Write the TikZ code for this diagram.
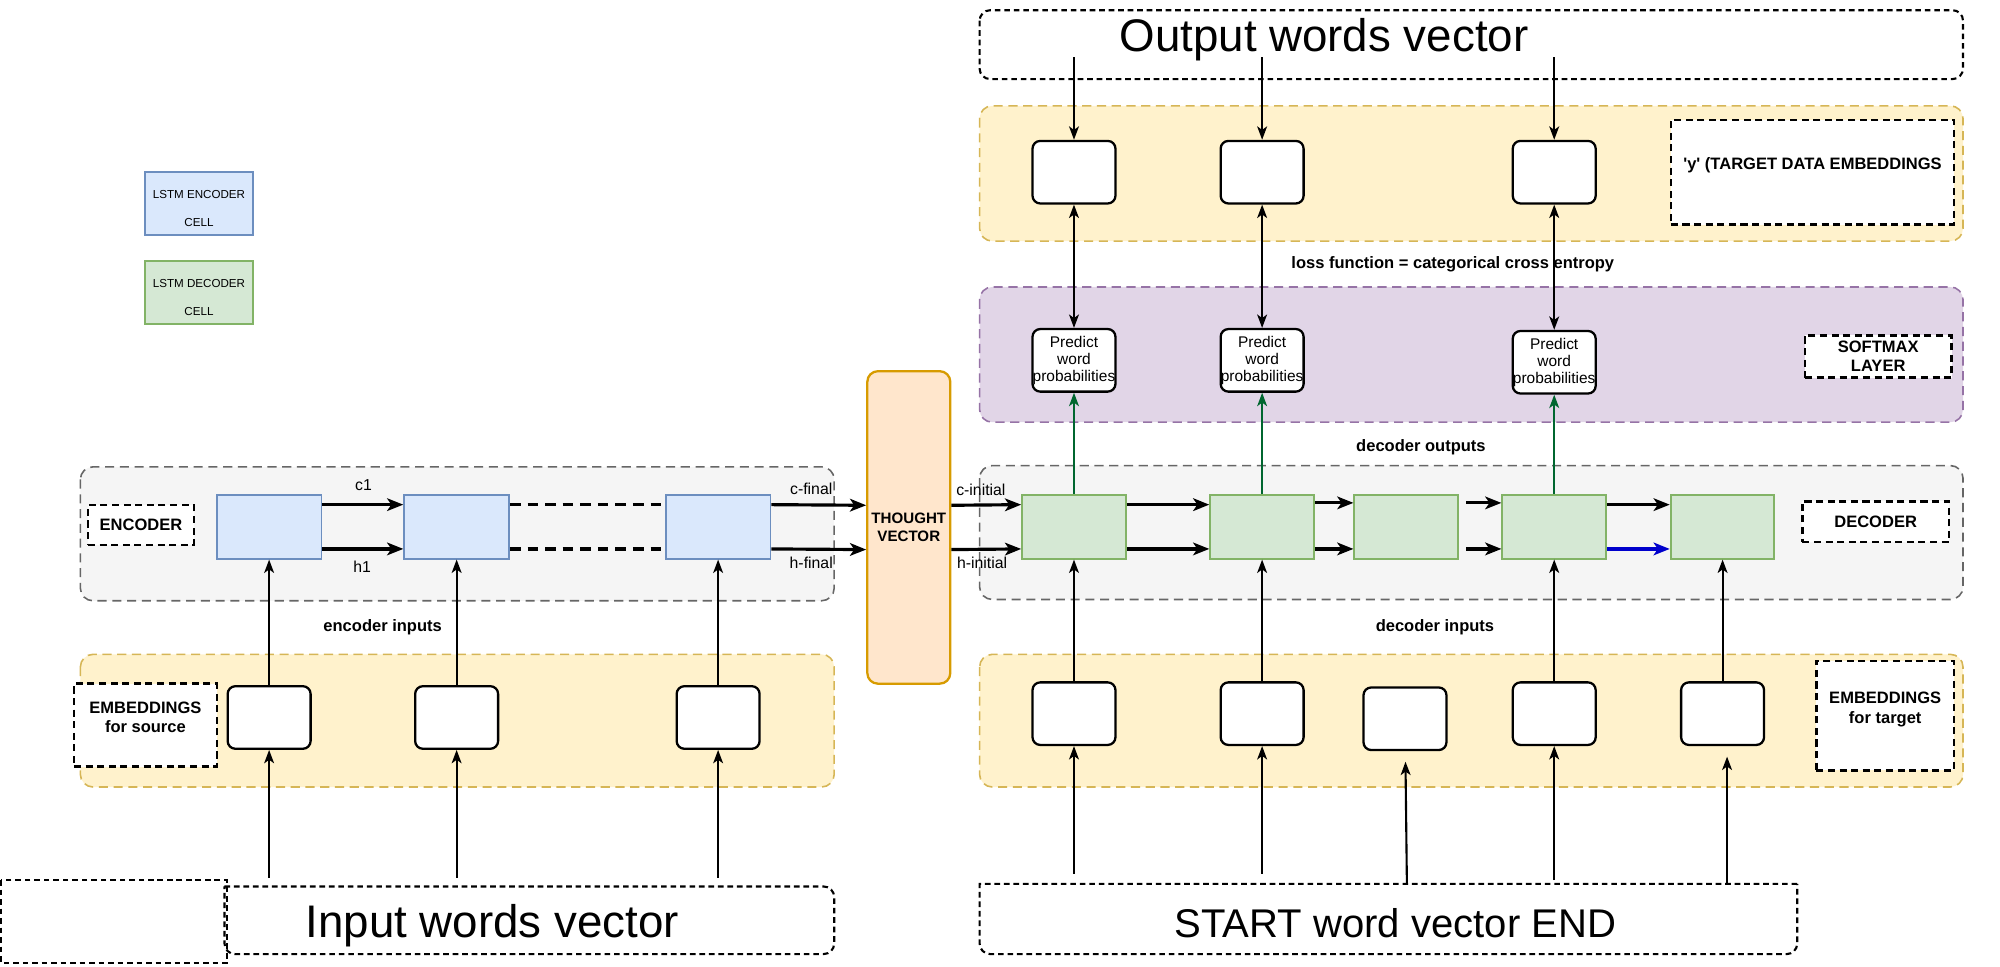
\documentclass[tikz,border=0pt]{standalone}
\usepackage{fontspec}
\setmainfont{Liberation Sans}
\usetikzlibrary{arrows.meta}
\definecolor{grpgraydraw}{HTML}{666666}
\definecolor{grpgrayfill}{HTML}{F5F5F5}
\definecolor{grpyellowdraw}{HTML}{D6B656}
\definecolor{grpyellowfill}{HTML}{FFF2CC}
\definecolor{grppurpledraw}{HTML}{9673A6}
\definecolor{grppurplefill}{HTML}{E1D5E7}
\definecolor{encdraw}{HTML}{6C8EBF}
\definecolor{encfill}{HTML}{DAE8FC}
\definecolor{decdraw}{HTML}{82B366}
\definecolor{decfill}{HTML}{D5E8D4}
\definecolor{tvdraw}{HTML}{D79B00}
\definecolor{tvfill}{HTML}{FFE6CC}
\definecolor{outgreen}{HTML}{00662F}
\definecolor{arrblue}{HTML}{0000CC}

\begin{document}
\begin{tikzpicture}[x=0.3629pt, y=-0.3629pt,
  grp/.style={dash pattern=on 2.6pt off 1.6pt, line width=0.45pt, rounded corners=3.6pt},
  grpgray/.style={grp, draw=grpgraydraw, fill=grpgrayfill},
  grpyellow/.style={grp, draw=grpyellowdraw, fill=grpyellowfill},
  grppurple/.style={grp, draw=grppurpledraw, fill=grppurplefill},
  bigbox/.style={draw=black, dash pattern=on 1.6pt off 1.1pt, line width=0.6pt},
  enccell/.style={draw=encdraw, fill=encfill, line width=0.55pt, minimum width=29.8pt, minimum height=18.1pt, inner sep=0pt},
  deccell/.style={draw=decdraw, fill=decfill, line width=0.55pt, minimum width=29.5pt, minimum height=18.1pt, inner sep=0pt},
  legendbox/.style={line width=0.55pt, minimum width=30.5pt, minimum height=17.8pt, inner sep=0pt, align=center, font=\fontsize{3.3}{8}\selectfont},
  embox/.style={draw=black, fill=white, line width=0.65pt, rounded corners=2.2pt, minimum width=23.6pt, minimum height=17.8pt, inner sep=0pt},
  predbox/.style={embox, align=center, font=\fontsize{4.4}{4.9}\selectfont},
  tagbox/.style={draw=black, fill=white, dash pattern=on 2pt off 1.3pt, line width=0.7pt, inner sep=0pt, align=center, font=\bfseries\fontsize{4.7}{5.5}\selectfont},
  lbl/.style={inner sep=0pt, font=\bfseries\fontsize{4.7}{5.5}\selectfont},
  smalllbl/.style={inner sep=0pt, font=\fontsize{4.5}{5}\selectfont},
  bigtxt/.style={inner sep=0pt, anchor=base, font=\fontsize{13}{15}\selectfont},
  arr/.style={-{Stealth[length=4.6pt, width=3.6pt, inset=1.2pt]}, line width=0.9pt},
  thinarr/.style={-{Stealth[length=3.8pt, width=2.8pt, inset=1pt]}, line width=0.6pt},
  dblarr/.style={{Stealth[length=3.8pt, width=2.8pt, inset=1pt]}-{Stealth[length=3.8pt, width=2.8pt, inset=1pt]}, line width=0.6pt},
  gapline/.style={dash pattern=on 3pt off 2pt, line width=0.9pt}
]
\useasboundingbox (0, 0) rectangle (1568, 758);

% groups
\draw [grpgray]   (63, 366) rectangle (654, 471);
\draw [grpyellow] (63, 513) rectangle (654, 617);
\draw [grpgray]   (768, 365) rectangle (1539, 470);
\draw [grpyellow] (768, 513) rectangle (1539, 617);
\draw [grppurple] (768, 225) rectangle (1539, 331);
\draw [grpyellow] (768, 83) rectangle (1539, 189);

% word vectors
\draw [bigbox, rounded corners=3pt] (768, 8) rectangle (1539, 62);
\draw [bigbox] (176, 695) [rounded corners=3pt] -- (654, 695) -- (654, 748) -- (176, 748) [sharp corners] -- cycle;
\draw [bigbox] (1409, 693) -- (768, 693) [rounded corners=3pt] -- (768, 748) -- (1409, 748) [sharp corners] -- cycle;
\draw [bigbox] (1, 690) rectangle (178, 755);
\node [bigtxt] (outtxt) at (1038, 40) {Output words vector};
\node [bigtxt] (intxt) at (386, 735) {Input words vector};
\node [bigtxt, font=\fontsize{11.4}{13}\selectfont] (starttxt) at (1094, 735) {START word vector END};

% legend
\node [legendbox, draw=encdraw, fill=encfill] (legenc) at (156, 159.5) {\rule{0pt}{5pt}LSTM ENCODER\\CELL};
\node [legendbox, draw=decdraw, fill=decfill] (legdec) at (156, 229.5) {\rule{0pt}{5pt}LSTM DECODER\\CELL};

% encoder
\node [tagbox, minimum width=30.1pt, minimum height=11.3pt] (enctag) at (110.5, 411.5) {ENCODER};
\node [tagbox, minimum width=40.6pt, minimum height=23.6pt] (srctag) at (114, 568.5) {EMBEDDINGS\\for source\\[-1pt]};
\node [enccell] (ec1) at (211, 413) {};
\node [enccell] (ec2) at (358, 413) {};
\node [enccell] (ec3) at (563, 413) {};
\node [embox] (em1) at (211, 562.5) {};
\node [embox] (em2) at (358, 562.5) {};
\node [embox] (em3) at (563, 562.5) {};
\coordinate (in1) at (211, 688);
\coordinate (in2) at (358, 688);
\coordinate (in3) at (563, 688);
\node [lbl] (encin) at (300, 492) {encoder inputs};
\node [smalllbl] (c1lbl) at (285, 380) {c1};
\node [smalllbl] (h1lbl) at (284, 444) {h1};
\node [smalllbl] (cfinal) at (636, 383) {c-final};
\node [smalllbl] (hfinal) at (636, 441) {h-final};

\node [draw=tvdraw, fill=tvfill, line width=0.65pt, rounded corners=3pt, minimum width=23.6pt, minimum height=88.9pt, inner sep=0pt, align=center, font=\bfseries\fontsize{4.3}{5.1}\selectfont] (tv) at (712.5, 413.5) {THOUGHT\\VECTOR};

\draw [thinarr] (in1) -- (em1);
\draw [thinarr] (in2) -- (em2);
\draw [thinarr] (in3) -- (em3);
\draw [thinarr] (em1) -- (ec1);
\draw [thinarr] (em2) -- (ec2);
\draw [thinarr] (em3) -- (ec3);
\draw [arr] ([yshift=6.3pt]ec1.east) -- ([yshift=6.3pt]ec2.west);
\draw [arr] ([yshift=-6.3pt]ec1.east) -- ([yshift=-6.3pt]ec2.west);
\draw [gapline] ([yshift=6.3pt]ec2.east) -- ([yshift=6.3pt]ec3.west);
\draw [gapline] ([yshift=-6.3pt]ec2.east) -- ([yshift=-6.3pt]ec3.west);
\draw [arr] ([yshift=6.3pt]ec3.east) -- ([yshift=6.3pt]tv.west);
\draw [arr] ([yshift=-6.3pt]ec3.east) -- ([yshift=-6.3pt]tv.west);

% decoder
\node [tagbox, minimum width=41.7pt, minimum height=11.6pt] (dectag) at (1470.5, 409) {DECODER};
\node [tagbox, minimum width=39.2pt, minimum height=31.2pt] (tgttag) at (1478, 561) {EMBEDDINGS\\for target\\[-1pt]};
\node [tagbox, minimum width=41.7pt, minimum height=12pt] (smtag) at (1472.5, 279.5) {SOFTMAX\\LAYER};
\node [tagbox, minimum width=80.6pt, minimum height=29.8pt] (ytag) at (1421, 135) {\textquotesingle y\textquotesingle\ (TARGET DATA EMBEDDINGS\\[-0.5pt]};
\node [deccell] (dc1) at (842, 413) {};
\node [deccell] (dc2) at (989.5, 413) {};
\node [deccell] (dc3) at (1102.5, 413) {};
\node [deccell] (dc4) at (1218.5, 413) {};
\node [deccell] (dc5) at (1350.5, 413) {};
\node [embox] (te1) at (842, 559.5) {};
\node [embox] (te2) at (989.5, 559.5) {};
\node [embox] (te3) at (1101.5, 563.5) {};
\node [embox] (te4) at (1218.5, 559.5) {};
\node [embox] (te5) at (1350.5, 559.5) {};
\node [predbox] (pw1) at (842, 282.5) {Predict\\word\\probabilities};
\node [predbox] (pw2) at (989.5, 282.5) {Predict\\word\\probabilities};
\node [predbox] (pw3) at (1218.5, 284) {Predict\\word\\probabilities};
\node [embox] (yb1) at (842, 135) {};
\node [embox] (yb2) at (989.5, 135) {};
\node [embox] (yb3) at (1218.5, 135) {};
\coordinate (st1) at (842, 685);
\coordinate (st2) at (989.5, 685);
\coordinate (st3) at (1103, 693);
\coordinate (st4) at (1218.5, 690);
\coordinate (st5) at (1354, 692);
\coordinate (ow1) at (842, 45);
\coordinate (ow2) at (989.5, 45);
\coordinate (ow3) at (1218.5, 45);
\node [lbl] (decin) at (1125, 492) {decoder inputs};
\node [lbl] (decout) at (1114, 351) {decoder outputs};
\node [lbl] (loss) at (1139, 207) {loss function = categorical cross entropy};
\node [smalllbl] (cinit) at (769, 384) {c-initial};
\node [smalllbl] (hinit) at (770, 441) {h-initial};

\draw [arr] ([yshift=6.3pt]tv.east) -- ([yshift=6.3pt]dc1.west);
\draw [arr] ([yshift=-6.3pt]tv.east) -- ([yshift=-6.3pt]dc1.west);
\draw [arr] ([yshift=6.3pt]dc1.east) -- ([yshift=6.3pt]dc2.west);
\draw [arr] ([yshift=-6.3pt]dc1.east) -- ([yshift=-6.3pt]dc2.west);
\draw [arr] ([yshift=6.8pt]dc2.east) -- ([yshift=6.8pt]dc3.west);
\draw [arr] ([yshift=-6.3pt]dc2.east) -- ([yshift=-6.3pt]dc3.west);
\draw [arr, shorten <=2pt] ([yshift=6.8pt]dc3.east) -- ([yshift=6.8pt]dc4.west);
\draw [arr, shorten <=2pt] ([yshift=-6.3pt]dc3.east) -- ([yshift=-6.3pt]dc4.west);
\draw [arr] ([yshift=6.3pt]dc4.east) -- ([yshift=6.3pt]dc5.west);
\draw [arr, draw=arrblue] ([yshift=-6.3pt]dc4.east) -- ([yshift=-6.3pt]dc5.west);

\draw [thinarr] (st1) -- (te1);
\draw [thinarr] (st2) -- (te2);
\draw [thinarr, shorten >=3pt] (st3) -- (te3);
\draw [thinarr] (st4) -- (te4);
\draw [thinarr, shorten >=3pt] (st5) -- (st5 |- te5.south);
\draw [thinarr] (te1) -- (dc1);
\draw [thinarr] (te2) -- (dc2);
\draw [thinarr] (te4) -- (dc4);
\draw [thinarr] (te5) -- (dc5);

\draw [thinarr, draw=outgreen] (dc1.north) -- (pw1.south);
\draw [thinarr, draw=outgreen] (dc2.north) -- (pw2.south);
\draw [thinarr, draw=outgreen] (dc4.north) -- (pw3.south);
\draw [dblarr] (pw1.north) -- (yb1.south);
\draw [dblarr] (pw2.north) -- (yb2.south);
\draw [dblarr] (pw3.north) -- (yb3.south);
\draw [thinarr] (ow1) -- (yb1.north);
\draw [thinarr] (ow2) -- (yb2.north);
\draw [thinarr] (ow3) -- (yb3.north);
\end{tikzpicture}
\end{document}
